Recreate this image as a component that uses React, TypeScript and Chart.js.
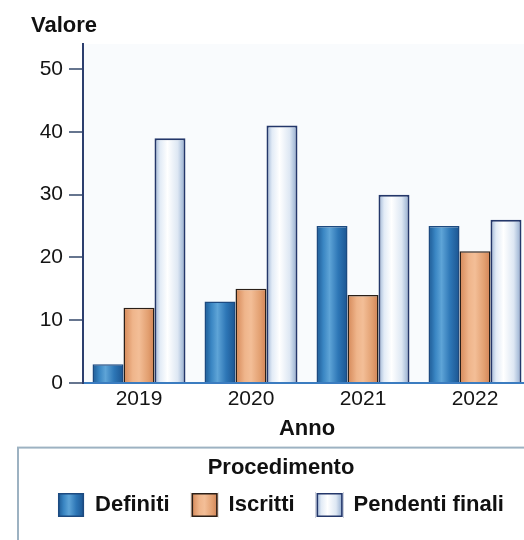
import React, { useEffect, useRef } from "react";
import { Chart, registerables } from "chart.js";

Chart.register(...registerables);

// ---- data ----
const categories = ["2019", "2020", "2021", "2022"];
const seriesNames = ["Definiti", "Iscritti", "Pendenti finali"];
const definiti = [3, 13, 25, 25];
const iscritti = [12, 15, 14, 21];
const pendentiFinali = [39, 41, 30, 26];
const yMax = 54;
const yStep = 10;
const chartTitle = "Valore";
const xTitle = "Anno";
const legendTitle = "Procedimento";

const FONT = "'Liberation Sans', Arial, Helvetica, sans-serif";
const CAT_PCT = 0.83;

type Stops = [number, string][];
const blueStops: Stops = [
  [0, "#1b5893"],
  [0.22, "#3a86c3"],
  [0.42, "#5ea4d7"],
  [0.7, "#2d76b6"],
  [1, "#1b5490"],
];
const orangeStops: Stops = [
  [0, "#d48757"],
  [0.3, "#efb58b"],
  [0.5, "#f3be97"],
  [0.8, "#e29f70"],
  [1, "#d08255"],
];
const whiteStops: Stops = [
  [0, "#98b0d2"],
  [0.18, "#e2ebf6"],
  [0.42, "#ffffff"],
  [0.75, "#dde7f3"],
  [1, "#8ea8cc"],
];
const allStops = [blueStops, orangeStops, whiteStops];
const borderColors = ["#1d4a80", "#2a1f18", "#24376a"];
const solidColors = ["#2f78b8", "#eaa77a", "#e6eef8"];

function grad(ctx: CanvasRenderingContext2D, left: number, w: number, stops: Stops) {
  const g = ctx.createLinearGradient(left, 0, left + w, 0);
  stops.forEach(([o, c]) => g.addColorStop(o, c));
  return g;
}

function barFill(dsIdx: number) {
  return (c: any) => {
    const chart = c.chart;
    const xs = chart.scales && chart.scales.x;
    if (c.type !== "data" || !xs || !xs.width) return solidColors[dsIdx];
    const catW = xs.width / categories.length;
    const groupW = catW * CAT_PCT;
    const barW = groupW / seriesNames.length;
    const center = xs.getPixelForValue(c.dataIndex);
    const left = center - groupW / 2 + dsIdx * barW;
    return grad(chart.ctx, left, barW, allStops[dsIdx]);
  };
}

const decorPlugin = {
  id: "decor",
  beforeDraw(chart: any) {
    const { ctx, chartArea } = chart;
    ctx.save();
    ctx.fillStyle = "#ffffff";
    ctx.fillRect(0, 0, chart.width, chart.height);
    ctx.fillStyle = "#f9fbfd";
    ctx.fillRect(chartArea.left, chartArea.top, chartArea.right - chartArea.left, chartArea.bottom - chartArea.top);
    ctx.restore();
  },
  afterDraw(chart: any) {
    const { ctx } = chart;
    const lg = chart.legend;
    if (!lg) return;
    ctx.save();
    ctx.strokeStyle = "#9db2c2";
    ctx.lineWidth = 2;
    ctx.strokeRect(lg.left - 13, lg.top + 1, chart.width, chart.height);
    const bw = lg.options.labels.boxWidth;
    const bh = lg.options.labels.boxHeight;
    (lg.legendHitBoxes || []).forEach((hb: any, i: number) => {
      ctx.fillStyle = "#ffffff";
      ctx.fillRect(hb.left - 1, hb.top - 1, bw + 2, bh + 2);
      ctx.fillStyle = grad(ctx, hb.left, bw, allStops[i]);
      ctx.fillRect(hb.left, hb.top, bw, bh);
      ctx.strokeStyle = borderColors[i];
      ctx.lineWidth = 1.5;
      ctx.strokeRect(hb.left + 0.75, hb.top + 0.75, bw - 1.5, bh - 1.5);
    });
    ctx.restore();
  },
};

export default function App() {
  const ref = useRef<HTMLCanvasElement>(null);

  useEffect(() => {
    if (!ref.current) return;
    const values = [definiti, iscritti, pendentiFinali];
    const chart = new Chart(ref.current, {
      type: "bar",
      data: {
        labels: categories,
        datasets: seriesNames.map((name, i) => ({
          label: name,
          data: values[i],
          backgroundColor: barFill(i),
          borderColor: borderColors[i],
          borderWidth: i === 2 ? 2 : 1.5,
          borderSkipped: "start",
          barPercentage: 1,
          categoryPercentage: CAT_PCT,
        })),
      },
      options: {
        responsive: false,
        animation: false,
        devicePixelRatio: 1,
        events: [],
        layout: { padding: { left: 31, right: 29, top: 0, bottom: 33 } },
        plugins: {
          tooltip: { enabled: false },
          title: {
            display: true,
            text: chartTitle,
            align: "start",
            color: "#111111",
            font: { family: FONT, size: 22, weight: "bold" },
            padding: { top: 12.3, bottom: 5.3 },
          },
          legend: {
            display: true,
            position: "bottom",
            align: "center",
            title: {
              display: true,
              text: legendTitle,
              color: "#111111",
              font: { family: FONT, size: 22, weight: "bold" },
              padding: { top: 10, bottom: -12 },
            },
            labels: {
              color: "#111111",
              font: { family: FONT, size: 22, weight: "bold" },
              boxWidth: 26,
              boxHeight: 24,
              padding: 22,
            },
          },
        },
        scales: {
          x: {
            type: "category",
            offset: true,
            grid: { display: false, drawTicks: false },
            border: { display: true, color: "#3b7cc0", width: 2 },
            ticks: {
              color: "#141414",
              padding: 3.5,
              font: { family: FONT, size: 21 },
            },
            title: {
              display: true,
              text: xTitle,
              color: "#111111",
              font: { family: FONT, size: 22, weight: "bold" },
              padding: { top: 1, bottom: 4 },
            },
          },
          y: {
            type: "linear",
            min: 0,
            max: yMax,
            bounds: "data",
            grid: {
              display: true,
              drawOnChartArea: false,
              drawTicks: true,
              tickLength: 14,
              color: "#66758f",
              lineWidth: 2,
            },
            border: { display: true, color: "#2c3e6e", width: 2 },
            ticks: {
              stepSize: yStep,
              includeBounds: false,
              color: "#141414",
              padding: 6,
              font: { family: FONT, size: 21 },
            },
            afterBuildTicks: (s: any) => {
              s.ticks = s.ticks.filter((t: any) => t.value % yStep === 0);
            },
            afterFit: (s: any) => {
              s.width = 52;
            },
          },
        },
      },
      plugins: [decorPlugin],
    } as any);
    return () => chart.destroy();
  }, []);

  return (
    <div
      style={{
        position: "fixed",
        left: 0,
        top: 0,
        width: 524,
        height: 540,
        overflow: "hidden",
        background: "#ffffff",
      }}
    >
      <canvas ref={ref} width={560} height={560} style={{ display: "block" }} />
    </div>
  );
}
